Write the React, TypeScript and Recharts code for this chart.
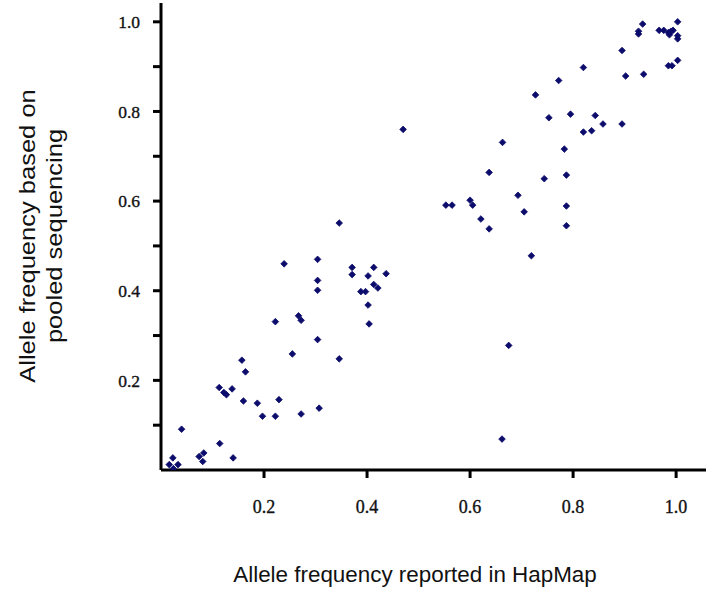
import React from 'react';
import { ScatterChart, Scatter, XAxis, YAxis, Label } from 'recharts';

// Allele frequency reported in HapMap (x) and based on pooled sequencing (y)
const hapmapFreq = [
  0.016, 0.024, 0.023, 0.033, 0.040, 0.074, 0.083, 0.081, 0.114, 0.140,
  0.113, 0.122, 0.127, 0.138, 0.157, 0.164, 0.160, 0.187, 0.197, 0.222,
  0.229, 0.222, 0.239, 0.255, 0.267, 0.272, 0.272, 0.304, 0.304, 0.304,
  0.304, 0.307, 0.346, 0.346, 0.371, 0.371, 0.402, 0.413, 0.388, 0.397,
  0.402, 0.413, 0.421, 0.437, 0.404, 0.470, 0.553, 0.565, 0.600, 0.605,
  0.621, 0.637, 0.637, 0.663, 0.693, 0.705, 0.744, 0.783, 0.787, 0.787,
  0.787, 0.727, 0.753, 0.795, 0.772, 0.820, 0.820, 0.836, 0.843, 0.858,
  0.895, 0.895, 0.902, 0.937, 0.927, 0.927, 0.935, 0.967, 0.976, 0.985,
  0.987, 0.990, 0.994, 1.003, 1.003, 1.003, 1.003, 0.985, 0.992, 0.719,
  0.675, 0.662,
];
const pooledFreq = [
  0.012, 0.003, 0.027, 0.012, 0.091, 0.030, 0.038, 0.019, 0.059, 0.027,
  0.184, 0.173, 0.168, 0.181, 0.245, 0.219, 0.154, 0.149, 0.120, 0.120,
  0.157, 0.331, 0.460, 0.259, 0.344, 0.334, 0.125, 0.470, 0.423, 0.401,
  0.291, 0.138, 0.248, 0.551, 0.452, 0.436, 0.433, 0.452, 0.398, 0.398,
  0.368, 0.414, 0.406, 0.438, 0.326, 0.760, 0.591, 0.591, 0.602, 0.591,
  0.560, 0.538, 0.664, 0.731, 0.613, 0.576, 0.650, 0.716, 0.658, 0.589,
  0.545, 0.837, 0.786, 0.794, 0.869, 0.898, 0.754, 0.757, 0.791, 0.772,
  0.772, 0.936, 0.879, 0.883, 0.979, 0.973, 0.995, 0.981, 0.981, 0.976,
  0.971, 0.979, 0.981, 1.000, 0.969, 0.962, 0.914, 0.902, 0.902, 0.478,
  0.278, 0.069,
];

const xTicks = [0.2, 0.4, 0.6, 0.8, 1.0];
const yTicks = [0.1, 0.2, 0.3, 0.4, 0.5, 0.6, 0.7, 0.8, 0.9, 1.0];
const yLabeledTicks = [0.2, 0.4, 0.6, 0.8, 1.0];

const xTitle = 'Allele frequency reported in HapMap';
const yTitleLines = ['Allele frequency based on', 'pooled sequencing'];

const data = hapmapFreq.map((x, i) => ({ x, y: pooledFreq[i] }));

const DOT = '#0c0c6c';

const Diamond = (props: any) => {
  const { cx, cy } = props;
  if (cx == null || cy == null) return null;
  const r = 3.3;
  return (
    <polygon
      points={`${cx},${cy - r} ${cx + r},${cy} ${cx},${cy + r} ${cx - r},${cy}`}
      fill={DOT}
      stroke={DOT}
      strokeWidth={0.8}
    />
  );
};

const sans = 'Liberation Sans, Arial, sans-serif';
const serif = 'Liberation Serif, Times New Roman, serif';

const XTitle = () => (
  <text x={415} y={582} textAnchor="middle" fontFamily={sans} fontSize={22.4} fill="#111">
    {xTitle}
  </text>
);

const YTitle = () => (
  <g>
    <text transform="translate(35,236) rotate(-90) scale(1.16,1)" textAnchor="middle" fontFamily={sans} fontSize={22} fill="#111">
      {yTitleLines[0]}
    </text>
    <text transform="translate(62,236) rotate(-90) scale(1.16,1)" textAnchor="middle" fontFamily={sans} fontSize={22} fill="#111">
      {yTitleLines[1]}
    </text>
  </g>
);

export default function App() {
  return (
    <div style={{ position: 'absolute', left: 0, top: 0, width: 706, height: 590, background: '#fff' }}>
      <ScatterChart width={706} height={590} margin={{ top: 3, right: 0, bottom: 0, left: 0 }}>
        <XAxis
          type="number"
          dataKey="x"
          domain={[0, 1.058]}
          ticks={xTicks}
          allowDataOverflow
          height={120}
          tickSize={8}
          tickMargin={22}
          tickFormatter={(v: number) => v.toFixed(1)}
          axisLine={{ stroke: '#000', strokeWidth: 3 }}
          tickLine={{ stroke: '#000', strokeWidth: 3 }}
          tick={{ fontFamily: serif, fontSize: 18, fill: '#111', stroke: '#111', strokeWidth: 0.35 }}
        >
          <Label content={<XTitle />} />
        </XAxis>
        <YAxis
          type="number"
          dataKey="y"
          domain={[0, 1.042]}
          ticks={yTicks}
          allowDataOverflow
          width={161}
          tickSize={8}
          tickMargin={13}
          tickFormatter={(v: number) => (yLabeledTicks.some((t) => Math.abs(t - v) < 1e-6) ? v.toFixed(1) : '')}
          axisLine={{ stroke: '#000', strokeWidth: 3 }}
          tickLine={{ stroke: '#000', strokeWidth: 3 }}
          tick={{ fontFamily: serif, fontSize: 17.5, fill: '#111', stroke: '#111', strokeWidth: 0.35 }}
        >
          <Label content={<YTitle />} />
        </YAxis>
        <Scatter data={data} shape={<Diamond />} isAnimationActive={false} />
      </ScatterChart>
    </div>
  );
}
